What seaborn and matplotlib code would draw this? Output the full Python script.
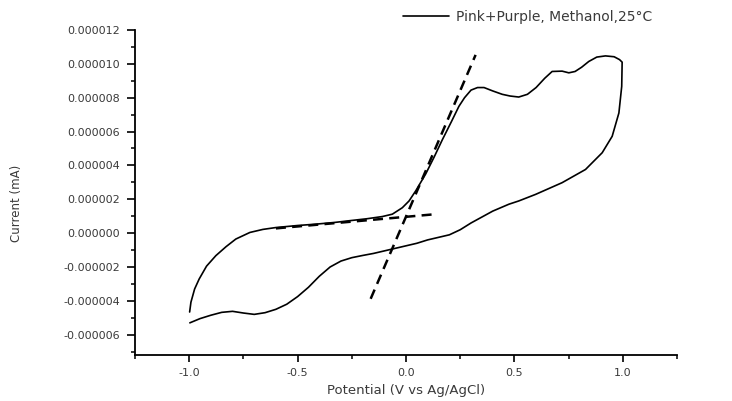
import numpy as np
import pandas as pd
import matplotlib
matplotlib.use("Agg")
import matplotlib.pyplot as plt
from matplotlib.ticker import MultipleLocator, FixedLocator, FuncFormatter
import seaborn as sns

# ---- data (potential in V, current in units of 1e-6) ----
pot_forward = [-0.998, -0.992, -0.975, -0.954, -0.92, -0.877, -0.83, -0.785, -0.72,
               -0.66, -0.60, -0.50, -0.416, -0.33, -0.263, -0.18, -0.109, -0.063,
               -0.017, 0.014, 0.045, 0.091, 0.13, 0.167, 0.21, 0.244, 0.27, 0.30,
               0.33, 0.36, 0.40, 0.444, 0.48, 0.52, 0.56, 0.60, 0.64, 0.674, 0.72,
               0.751, 0.78, 0.81, 0.843, 0.88, 0.92, 0.96, 0.985, 0.997]
cur_forward = [-4.66, -4.08, -3.3, -2.71, -1.95, -1.33, -0.8, -0.35, 0.04,
               0.22, 0.33, 0.45, 0.53, 0.63, 0.73, 0.85, 0.98, 1.12,
               1.5, 1.9, 2.5, 3.5, 4.5, 5.5, 6.6, 7.49, 8.0, 8.45,
               8.6, 8.6, 8.4, 8.2, 8.1, 8.04, 8.2, 8.6, 9.15, 9.55, 9.57,
               9.47, 9.55, 9.8, 10.14, 10.4, 10.47, 10.42, 10.25, 10.1]

pot_reverse = [0.997, 0.995, 0.982, 0.951, 0.905, 0.828, 0.72, 0.598, 0.52, 0.475,
               0.40, 0.35, 0.30, 0.25, 0.20, 0.15, 0.10, 0.05, 0.0, -0.05, -0.10,
               -0.15, -0.20, -0.25, -0.30, -0.35, -0.40, -0.45, -0.50, -0.55,
               -0.60, -0.65, -0.70, -0.75, -0.80, -0.85, -0.90, -0.95, -0.997]
cur_reverse = [10.1, 8.67, 7.1, 5.72, 4.75, 3.76, 2.98, 2.29, 1.9, 1.71,
               1.3, 0.95, 0.6, 0.2, -0.1, -0.25, -0.4, -0.6, -0.75, -0.9, -1.05,
               -1.2, -1.32, -1.45, -1.65, -2.0, -2.55, -3.2, -3.75, -4.2,
               -4.5, -4.7, -4.8, -4.72, -4.62, -4.68, -4.85, -5.05, -5.3]

tangent_steep_pot = [-0.163, 0.321]
tangent_steep_cur = [-3.88, 10.53]
tangent_flat_pot = [-0.60, 0.137]
tangent_flat_cur = [0.28, 1.12]

series_label = "Pink+Purple, Methanol,25°C"
x_ticks = [-1.0, -0.5, 0.0, 0.5, 1.0]
y_ticks = [-6, -4, -2, 0, 2, 4, 6, 8, 10, 12]

# ---- build frames ----
scale = 1e-6
cv = pd.DataFrame({
    "Potential": pot_forward + pot_reverse,
    "Current": [c * scale for c in cur_forward + cur_reverse],
})
steep = pd.DataFrame({"Potential": tangent_steep_pot,
                      "Current": [c * scale for c in tangent_steep_cur]})
flat = pd.DataFrame({"Potential": tangent_flat_pot,
                     "Current": [c * scale for c in tangent_flat_cur]})

sns.set_style("ticks")
plt.rcParams["font.family"] = ["DejaVu Sans"]

W, H = 732, 401
fig = plt.figure(figsize=(W / 100, H / 100), dpi=100)
ax = fig.add_axes([135 / W, 1 - 355 / H, (677 - 135) / W, (355 - 30) / H])

sns.lineplot(data=cv, x="Potential", y="Current", sort=False, estimator=None,
             color="black", linewidth=1.2, ax=ax, label=series_label)
sns.lineplot(data=steep, x="Potential", y="Current", sort=False, estimator=None,
             color="black", linewidth=1.8, linestyle=(0, (4, 2.5)), ax=ax,
             label="_nolegend_")
sns.lineplot(data=flat, x="Potential", y="Current", sort=False, estimator=None,
             color="black", linewidth=1.8, linestyle=(0, (4, 2.5)), ax=ax,
             label="_nolegend_")

ax.set_xlim(-1.25, 1.25)
ax.set_ylim(-7.2e-6, 12e-6)

ax.xaxis.set_major_locator(FixedLocator(x_ticks))
ax.xaxis.set_minor_locator(MultipleLocator(0.25))
ax.xaxis.set_major_formatter(FuncFormatter(lambda v, p: f"{v:.1f}"))
ax.yaxis.set_major_locator(FixedLocator([t * scale for t in y_ticks]))
ax.yaxis.set_minor_locator(MultipleLocator(1e-6))
ax.yaxis.set_major_formatter(FuncFormatter(lambda v, p: f"{v:.6f}"))

for s in ["top", "right"]:
    ax.spines[s].set_visible(False)
for s in ["left", "bottom"]:
    ax.spines[s].set_linewidth(1.3)
    ax.spines[s].set_color("black")

txt_col = "#3a3a3a"
ax.tick_params(axis="both", which="major", direction="out", width=1.2,
               colors="black", labelcolor=txt_col, labelsize=8)
ax.tick_params(axis="y", which="major", length=6, pad=5)
ax.tick_params(axis="x", which="major", length=5, pad=4)
ax.tick_params(axis="both", which="minor", direction="out", width=1.1, length=3,
               colors="black")

ax.set_xlabel("Potential (V vs Ag/AgCl)", fontsize=9.5, color=txt_col, labelpad=5)
ax.set_ylabel("Current (mA)", fontsize=8.5, color=txt_col)
ax.yaxis.set_label_coords(-0.207, 0.468)

leg = ax.legend(loc="center left", bbox_to_anchor=(403 / W, 1 - 17 / H),
                bbox_transform=fig.transFigure, frameon=False, fontsize=10,
                handlelength=3.3, handletextpad=0.5, borderpad=0,
                borderaxespad=0)
for t in leg.get_texts():
    t.set_color(txt_col)

fig.savefig("out.png", dpi=100)
